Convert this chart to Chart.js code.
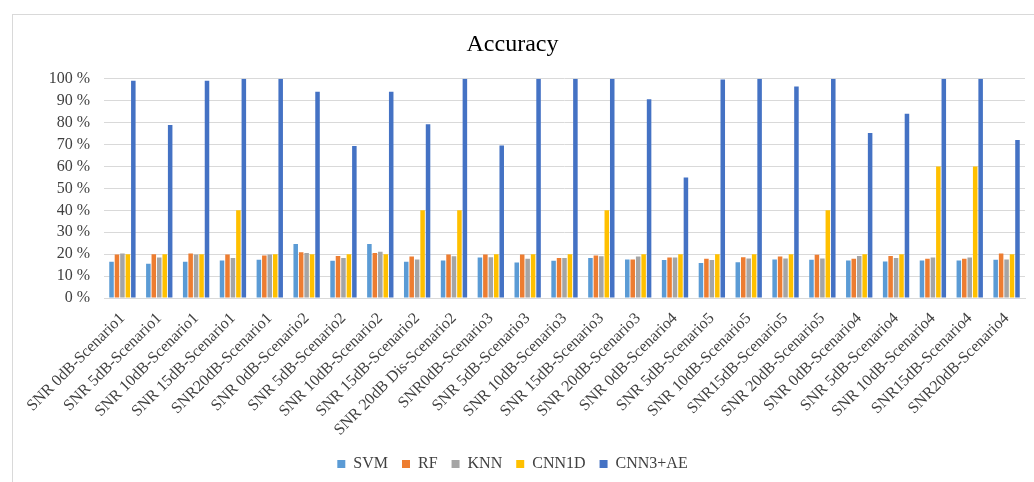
<!DOCTYPE html>
<html>
<head>
<meta charset="utf-8">
<script src="https://cdn.jsdelivr.net/npm/chart.js@4/dist/chart.umd.min.js"></script>
<style>
  html, body { margin: 0; padding: 0; background: #fff; overflow: hidden; }
  #frame {
    position: absolute; left: 12px; top: 14px;
    width: 1100px; height: 560px;
    border: 1px solid #d9d9d9;
  }
  #chart { position: absolute; left: 0; top: 0; }
</style>
</head>
<body>
<div id="frame"></div>
<canvas id="chart" width="1058" height="482"></canvas>
<script>
"use strict";

var categories = [
  "SNR 0dB-Scenario1", "SNR 5dB-Scenario1", "SNR 10dB-Scenario1", "SNR 15dB-Scenario1", "SNR20dB-Scenario1",
  "SNR 0dB-Scenario2", "SNR 5dB-Scenario2", "SNR 10dB-Scenario2", "SNR 15dB-Scenario2", "SNR 20dB Dis-Scenario2",
  "SNR0dB-Scenario3", "SNR 5dB-Scenario3", "SNR 10dB-Scenario3", "SNR 15dB-Scenario3", "SNR 20dB-Scenario3",
  "SNR 0dB-Scenario4", "SNR 5dB-Scenario5", "SNR 10dB-Scenario5", "SNR15dB-Scenario5", "SNR 20dB-Scenario5",
  "SNR 0dB-Scenario4", "SNR 5dB-Scenario4", "SNR 10dB-Scenario4", "SNR15dB-Scenario4", "SNR20dB-Scenario4"
];

var svm   = [16.5, 15.6, 16.5, 17.1, 17.4, 24.6, 17.0, 24.6, 16.5, 17.1, 18.5, 16.2, 17.0, 18.2, 17.6, 17.3, 16.0, 16.3, 17.6, 17.4, 17.1, 16.6, 17.1, 17.1, 17.4];
var rf    = [19.9, 20.0, 20.3, 19.9, 19.4, 20.9, 19.2, 20.5, 18.9, 19.9, 19.9, 19.9, 18.2, 19.4, 17.6, 18.5, 17.9, 18.6, 18.9, 19.7, 17.9, 19.2, 17.9, 17.9, 20.3];
var knn   = [20.3, 18.5, 19.9, 18.2, 19.9, 20.5, 18.2, 21.1, 17.6, 19.1, 18.6, 17.9, 18.2, 19.1, 18.9, 18.5, 17.3, 18.0, 18.0, 18.0, 19.2, 18.2, 18.5, 18.5, 17.6];
var cnn1d = [20, 20, 20, 40, 20, 20, 20, 20, 40, 40, 20, 20, 20, 40, 20, 20, 20, 20, 20, 40, 20, 20, 60, 60, 20];
var cnn3ae = [99.1, 78.9, 99.1, 100, 100, 94.1, 69.3, 94.1, 79.3, 100, 69.6, 100, 100, 100, 90.7, 55.0, 99.7, 100, 96.5, 100, 75.3, 84.0, 100, 100, 72.1];

var yStep = 10;

var serif = "'Liberation Serif', 'Times New Roman', serif";
var textColor = "#404040";
var gridColor = "#d9d9d9";

Chart.defaults.font.family = serif;

function series(label, data, color) {
  return {
    label: label,
    data: data,
    backgroundColor: color,
    borderWidth: 0,
    categoryPercentage: 0.74,
    barPercentage: 0.83
  };
}

var chart = new Chart(document.getElementById("chart"), {
  type: "bar",
  data: {
    labels: categories,
    datasets: [
      series("SVM", svm, "#5b9bd5"),
      series("RF", rf, "#ed7d31"),
      series("KNN", knn, "#a5a5a5"),
      series("CNN1D", cnn1d, "#ffc000"),
      series("CNN3+AE", cnn3ae, "#4472c4")
    ]
  },
  options: {
    responsive: false,
    animation: false,
    devicePixelRatio: 1,
    layout: { padding: { left: 0, right: 33, top: 0, bottom: 0 } },
    plugins: {
      title: {
        display: true,
        text: "Accuracy",
        color: "#000",
        font: { family: serif, size: 24, weight: "normal" },
        padding: { top: 30, bottom: 20 }
      },
      legend: {
        position: "bottom",
        labels: {
          color: textColor,
          font: { family: serif, size: 16, weight: "normal" },
          boxWidth: 8,
          boxHeight: 8,
          padding: 14
        }
      },
      tooltip: { enabled: false }
    },
    scales: {
      x: {
        grid: { display: false },
        border: { display: true, color: gridColor },
        ticks: {
          color: textColor,
          font: { family: serif, size: 16 },
          minRotation: 45,
          maxRotation: 45,
          autoSkip: false,
          padding: 3
        },
        afterFit: function(scale) { scale.height = 144; }
      },
      y: {
        min: 0,
        max: 100,
        grid: { color: gridColor, lineWidth: 1, drawTicks: false },
        border: { display: false },
        ticks: {
          stepSize: yStep,
          autoSkip: false,
          color: textColor,
          font: { family: serif, size: 16 },
          padding: 14,
          callback: function(v) { return v + " %"; }
        },
        afterFit: function(scale) { scale.width = 104; }
      }
    }
  }
});
</script>
</body>
</html>
